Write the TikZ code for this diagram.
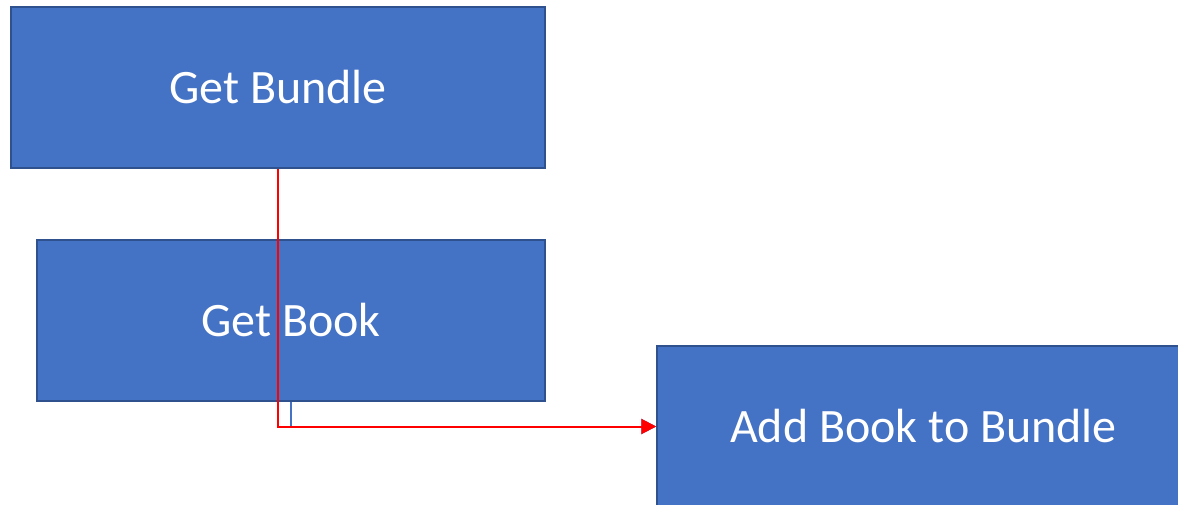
\documentclass[tikz,border=0pt]{standalone}
\usepackage{fontspec}
\setmainfont{Carlito}
\usepackage{xcolor}
\usetikzlibrary{positioning}
\usetikzlibrary{arrows, arrows.meta}
\definecolor{boxfill}{HTML}{4472C4}
\definecolor{boxline}{HTML}{2F528F}
\definecolor{linkred}{HTML}{FF0000}

\begin{document}
\begin{tikzpicture}[x=1pt,y=-1pt,
    stepbox/.style={draw=boxline, line width=1.5pt, fill=boxfill, text=white,
      minimum height=161pt, inner sep=0pt, font=\fontsize{48}{58}\selectfont},
    link/.style={line width=2pt, -{Triangle[length=15pt,width=15pt]}}]
  \useasboundingbox (0,0) rectangle (1178,505);
  \clip (0,0) rectangle (1178,505);

  \node[stepbox, minimum width=534pt] (bundle) at (278,87.5) {Get Bundle};
  \node[stepbox, minimum width=508pt] (book) at (291,320.5) {Get Book};
  \node[stepbox, minimum width=533pt] (add) at (923.5,426.5) {Add Book to Bundle};

  % connectors
  \draw[link, draw=boxfill] (book.south) |- (add.west);
  \draw[link, draw=linkred] (bundle.south) |- (add.west);
\end{tikzpicture}
\end{document}
